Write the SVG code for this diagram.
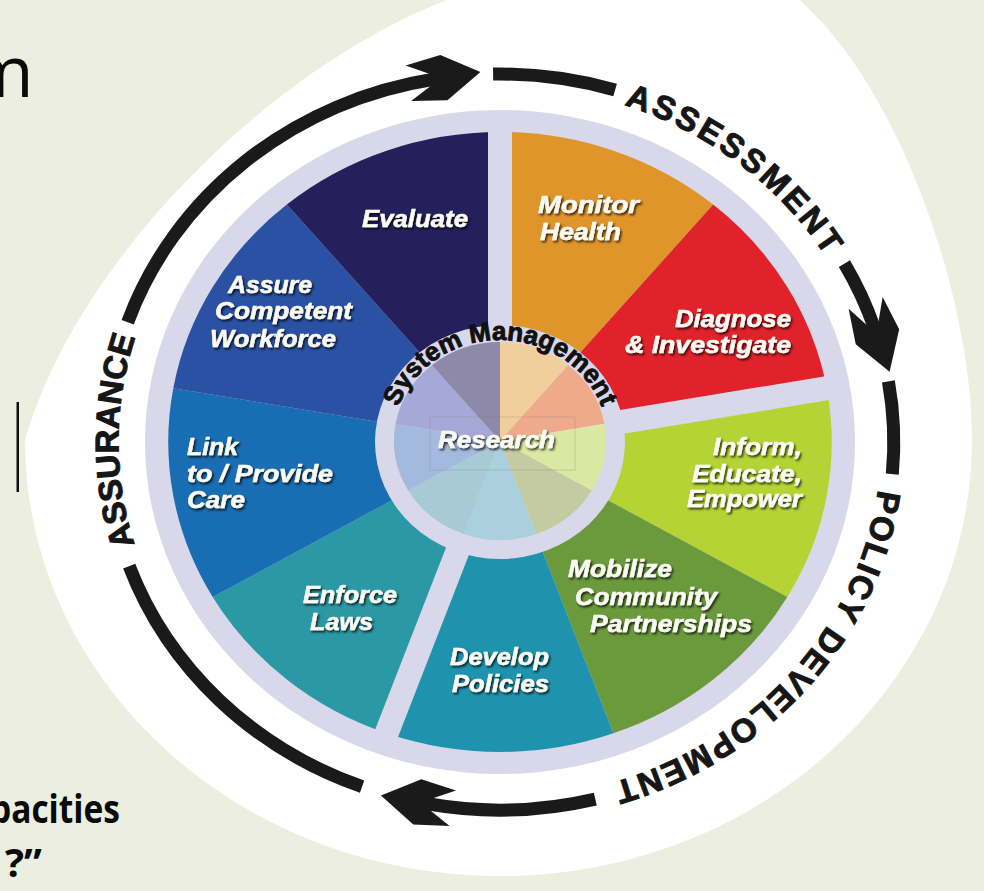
<svg xmlns="http://www.w3.org/2000/svg" width="984" height="891" viewBox="0 0 984 891">
<defs>
<style>
.lbl{font-family:"Liberation Sans",Arial,sans-serif;font-weight:bold;font-style:italic;font-size:23px;fill:#fbfbf4;stroke:#fbfbf4;stroke-width:0.5;filter:url(#sh)}
.ring{font-family:"Liberation Sans",Arial,sans-serif;font-weight:bold;font-size:33px;fill:#161616;stroke:#161616;stroke-width:1}
.arc{fill:none;stroke:#1a1a1a;stroke-width:13}
.gap{stroke:#d8d8ea;stroke-width:24}
.slide{font-family:"Open Sans","Liberation Sans",sans-serif;fill:#0a0a0a}
</style>
<filter id="sh" x="-10%" y="-30%" width="130%" height="170%"><feDropShadow dx="1.5" dy="2" stdDeviation="1.2" flood-color="#000" flood-opacity="0.75"/></filter>
<marker id="ah" markerUnits="userSpaceOnUse" viewBox="-30 -25 80 50" markerWidth="80" markerHeight="50" refX="0" refY="0" orient="auto" overflow="visible"><path d="M46 0 L9 -23 L-27 -18 L-5 -6 L-5 6 L-27 18 L9 23 Z" fill="#1a1a1a"/></marker>
<path id="tpAss" d="M 624.2 104.9 A 381.5 356.5 0 0 1 845.8 291.3"/>
<path id="tpPol" d="M 878.1 489.8 A 381.5 356.5 0 0 1 566.2 793.1"/>
<path id="tpAsu" d="M 134.6 544.5 A 381.5 356.5 0 0 1 154.2 291.3"/>
<path id="tpSys" d="M 392 441 A 108 101 0 0 1 608 441"/>
</defs>
<rect width="984" height="891" fill="#ecefdf"/>
<path d="M 470 -20 L 470 -8 C 290 50, 80 250, 25 440 C 25 681, 238 876, 500 876 C 760.5 876, 972 681, 972 440 C 972 300, 900 80, 790 -8 L 790 -20 Z" fill="#ffffff"/>
<g id="slide-text">
<text class="slide" x="-33" y="97" font-size="72">m</text>
<rect x="16.5" y="402" width="2.5" height="90" fill="#111"/>
<text class="slide" x="-10" y="823" font-size="40" font-weight="bold" textLength="130" lengthAdjust="spacingAndGlyphs">pacities</text>
<text class="slide" x="5" y="877" font-size="40" font-weight="bold">?”</text>
</g>
<ellipse cx="500" cy="442" rx="355" ry="332" fill="#d8d8ea"/>
<g id="monitor"><path d="M500 442 L500 132 A331.7 310 0 0 1 713.2 204.5 Z" fill="#e0952b"/>
<text class="lbl" x="538" y="213" textLength="101" lengthAdjust="spacingAndGlyphs">Monitor</text>
<text class="lbl" x="540" y="240" textLength="81" lengthAdjust="spacingAndGlyphs">Health</text></g>
<g id="diagnose"><path d="M500 442 L713.2 204.5 A331.7 310 0 0 1 826.7 388.2 Z" fill="#e1222a"/>
<text class="lbl" x="675" y="327" textLength="116" lengthAdjust="spacingAndGlyphs">Diagnose</text>
<text class="lbl" x="625" y="353" textLength="166" lengthAdjust="spacingAndGlyphs">&amp; Investigate</text></g>
<g id="inform"><path d="M500 442 L826.7 388.2 A331.7 310 0 0 1 787.3 597 Z" fill="#b5d334"/>
<text class="lbl" x="713" y="455" textLength="89" lengthAdjust="spacingAndGlyphs">Inform,</text>
<text class="lbl" x="692" y="482" textLength="110" lengthAdjust="spacingAndGlyphs">Educate,</text>
<text class="lbl" x="687" y="507" textLength="115" lengthAdjust="spacingAndGlyphs">Empower</text></g>
<g id="mobilize"><path d="M500 442 L787.3 597 A331.7 310 0 0 1 613.4 733.3 Z" fill="#6b9a3d"/>
<text class="lbl" x="568" y="577" textLength="104" lengthAdjust="spacingAndGlyphs">Mobilize</text>
<text class="lbl" x="575" y="605" textLength="142" lengthAdjust="spacingAndGlyphs">Community</text>
<text class="lbl" x="590" y="632" textLength="162" lengthAdjust="spacingAndGlyphs">Partnerships</text></g>
<g id="develop"><path d="M500 442 L613.4 733.3 A331.7 310 0 0 1 386.6 733.3 Z" fill="#1f93ae"/>
<text class="lbl" x="450" y="665" textLength="99" lengthAdjust="spacingAndGlyphs">Develop</text>
<text class="lbl" x="452" y="692" textLength="97" lengthAdjust="spacingAndGlyphs">Policies</text></g>
<g id="enforce"><path d="M500 442 L386.6 733.3 A331.7 310 0 0 1 212.7 597 Z" fill="#2b98a5"/>
<text class="lbl" x="303" y="603" textLength="94" lengthAdjust="spacingAndGlyphs">Enforce</text>
<text class="lbl" x="310" y="630" textLength="63" lengthAdjust="spacingAndGlyphs">Laws</text></g>
<g id="link"><path d="M500 442 L212.7 597 A331.7 310 0 0 1 173.3 388.2 Z" fill="#196db2"/>
<text class="lbl" x="187" y="455" textLength="51" lengthAdjust="spacingAndGlyphs">Link</text>
<text class="lbl" x="187" y="482" textLength="146" lengthAdjust="spacingAndGlyphs">to / Provide</text>
<text class="lbl" x="187" y="508" textLength="58" lengthAdjust="spacingAndGlyphs">Care</text></g>
<g id="assure"><path d="M500 442 L173.3 388.2 A331.7 310 0 0 1 286.8 204.5 Z" fill="#2a51a3"/>
<text class="lbl" x="228" y="293" textLength="84" lengthAdjust="spacingAndGlyphs">Assure</text>
<text class="lbl" x="215" y="319" textLength="137" lengthAdjust="spacingAndGlyphs">Competent</text>
<text class="lbl" x="210" y="347" textLength="126" lengthAdjust="spacingAndGlyphs">Workforce</text></g>
<g id="evaluate"><path d="M500 442 L286.8 204.5 A331.7 310 0 0 1 500 132 Z" fill="#251f5c"/>
<text class="lbl" x="362" y="227" textLength="106" lengthAdjust="spacingAndGlyphs">Evaluate</text></g>
<g id="gaps">
<line class="gap" x1="500" y1="442" x2="500" y2="117"/>
<line class="gap" x1="500" y1="442" x2="842.5" y2="385.6"/>
<line class="gap" x1="500" y1="442" x2="381.1" y2="747.4"/>
</g>
<g id="research">
<ellipse cx="500" cy="442" rx="125" ry="117" fill="#d8d8ea"/>
<path d="M500 441 L500 342 A106 99 0 0 1 568.1 365.2 Z" fill="#f1cf9c"/>
<path d="M500 441 L568.1 365.2 A106 99 0 0 1 604.4 423.8 Z" fill="#efa98b"/>
<path d="M500 441 L604.4 423.8 A106 99 0 0 1 591.8 490.5 Z" fill="#dbe8a2"/>
<path d="M500 441 L591.8 490.5 A106 99 0 0 1 536.3 534 Z" fill="#c4cba0"/>
<path d="M500 441 L536.3 534 A106 99 0 0 1 463.7 534 Z" fill="#a9d0dc"/>
<path d="M500 441 L463.7 534 A106 99 0 0 1 408.2 490.5 Z" fill="#a7cad6"/>
<path d="M500 441 L408.2 490.5 A106 99 0 0 1 395.6 423.8 Z" fill="#a3b9dd"/>
<path d="M500 441 L395.6 423.8 A106 99 0 0 1 431.9 365.2 Z" fill="#a6a8d8"/>
<path d="M500 441 L431.9 365.2 A106 99 0 0 1 500 342 Z" fill="#8e88a9"/>
<rect x="430" y="417" width="145" height="53" fill="none" stroke="#777" stroke-width="1" opacity="0.25"/>
<text class="lbl" x="438" y="448" textLength="117" lengthAdjust="spacingAndGlyphs">Research</text>
</g>
<g id="system-management">
<text font-family="Liberation Sans, Arial, sans-serif" font-weight="bold" font-size="26" fill="#111" stroke="#111" stroke-width="0.9" text-anchor="middle"><textPath href="#tpSys" startOffset="50%">System Management</textPath></text>
</g>
<g id="connectors">
<path class="arc" d="M 127.7 322.2 A 393.8 368 0 0 1 435.0 79.0" marker-end="url(#ah)"/>
<path class="arc" d="M 493.1 74.1 A 393.8 368 0 0 1 615.1 90.1"/>
<path class="arc" d="M 844.4 263.6 A 393.8 368 0 0 1 874.5 328.3" marker-end="url(#ah)"/>
<path class="arc" d="M 888.4 381.3 A 393.8 368 0 0 1 892.3 474.1"/>
<path class="arc" d="M 595.3 799.1 A 393.8 368 0 0 1 426.2 803.5" marker-end="url(#ah)"/>
<path class="arc" d="M 362.1 786.7 A 393.8 368 0 0 1 129.2 566.1"/>
</g>
<g id="ring-labels">
<text class="ring" letter-spacing="3.2"><textPath href="#tpAss">ASSESSMENT</textPath></text>
<text class="ring" letter-spacing="2"><textPath href="#tpPol">POLICY DEVELOPMENT</textPath></text>
<text class="ring" letter-spacing="0.2"><textPath href="#tpAsu">ASSURANCE</textPath></text>
</g>
</svg>
